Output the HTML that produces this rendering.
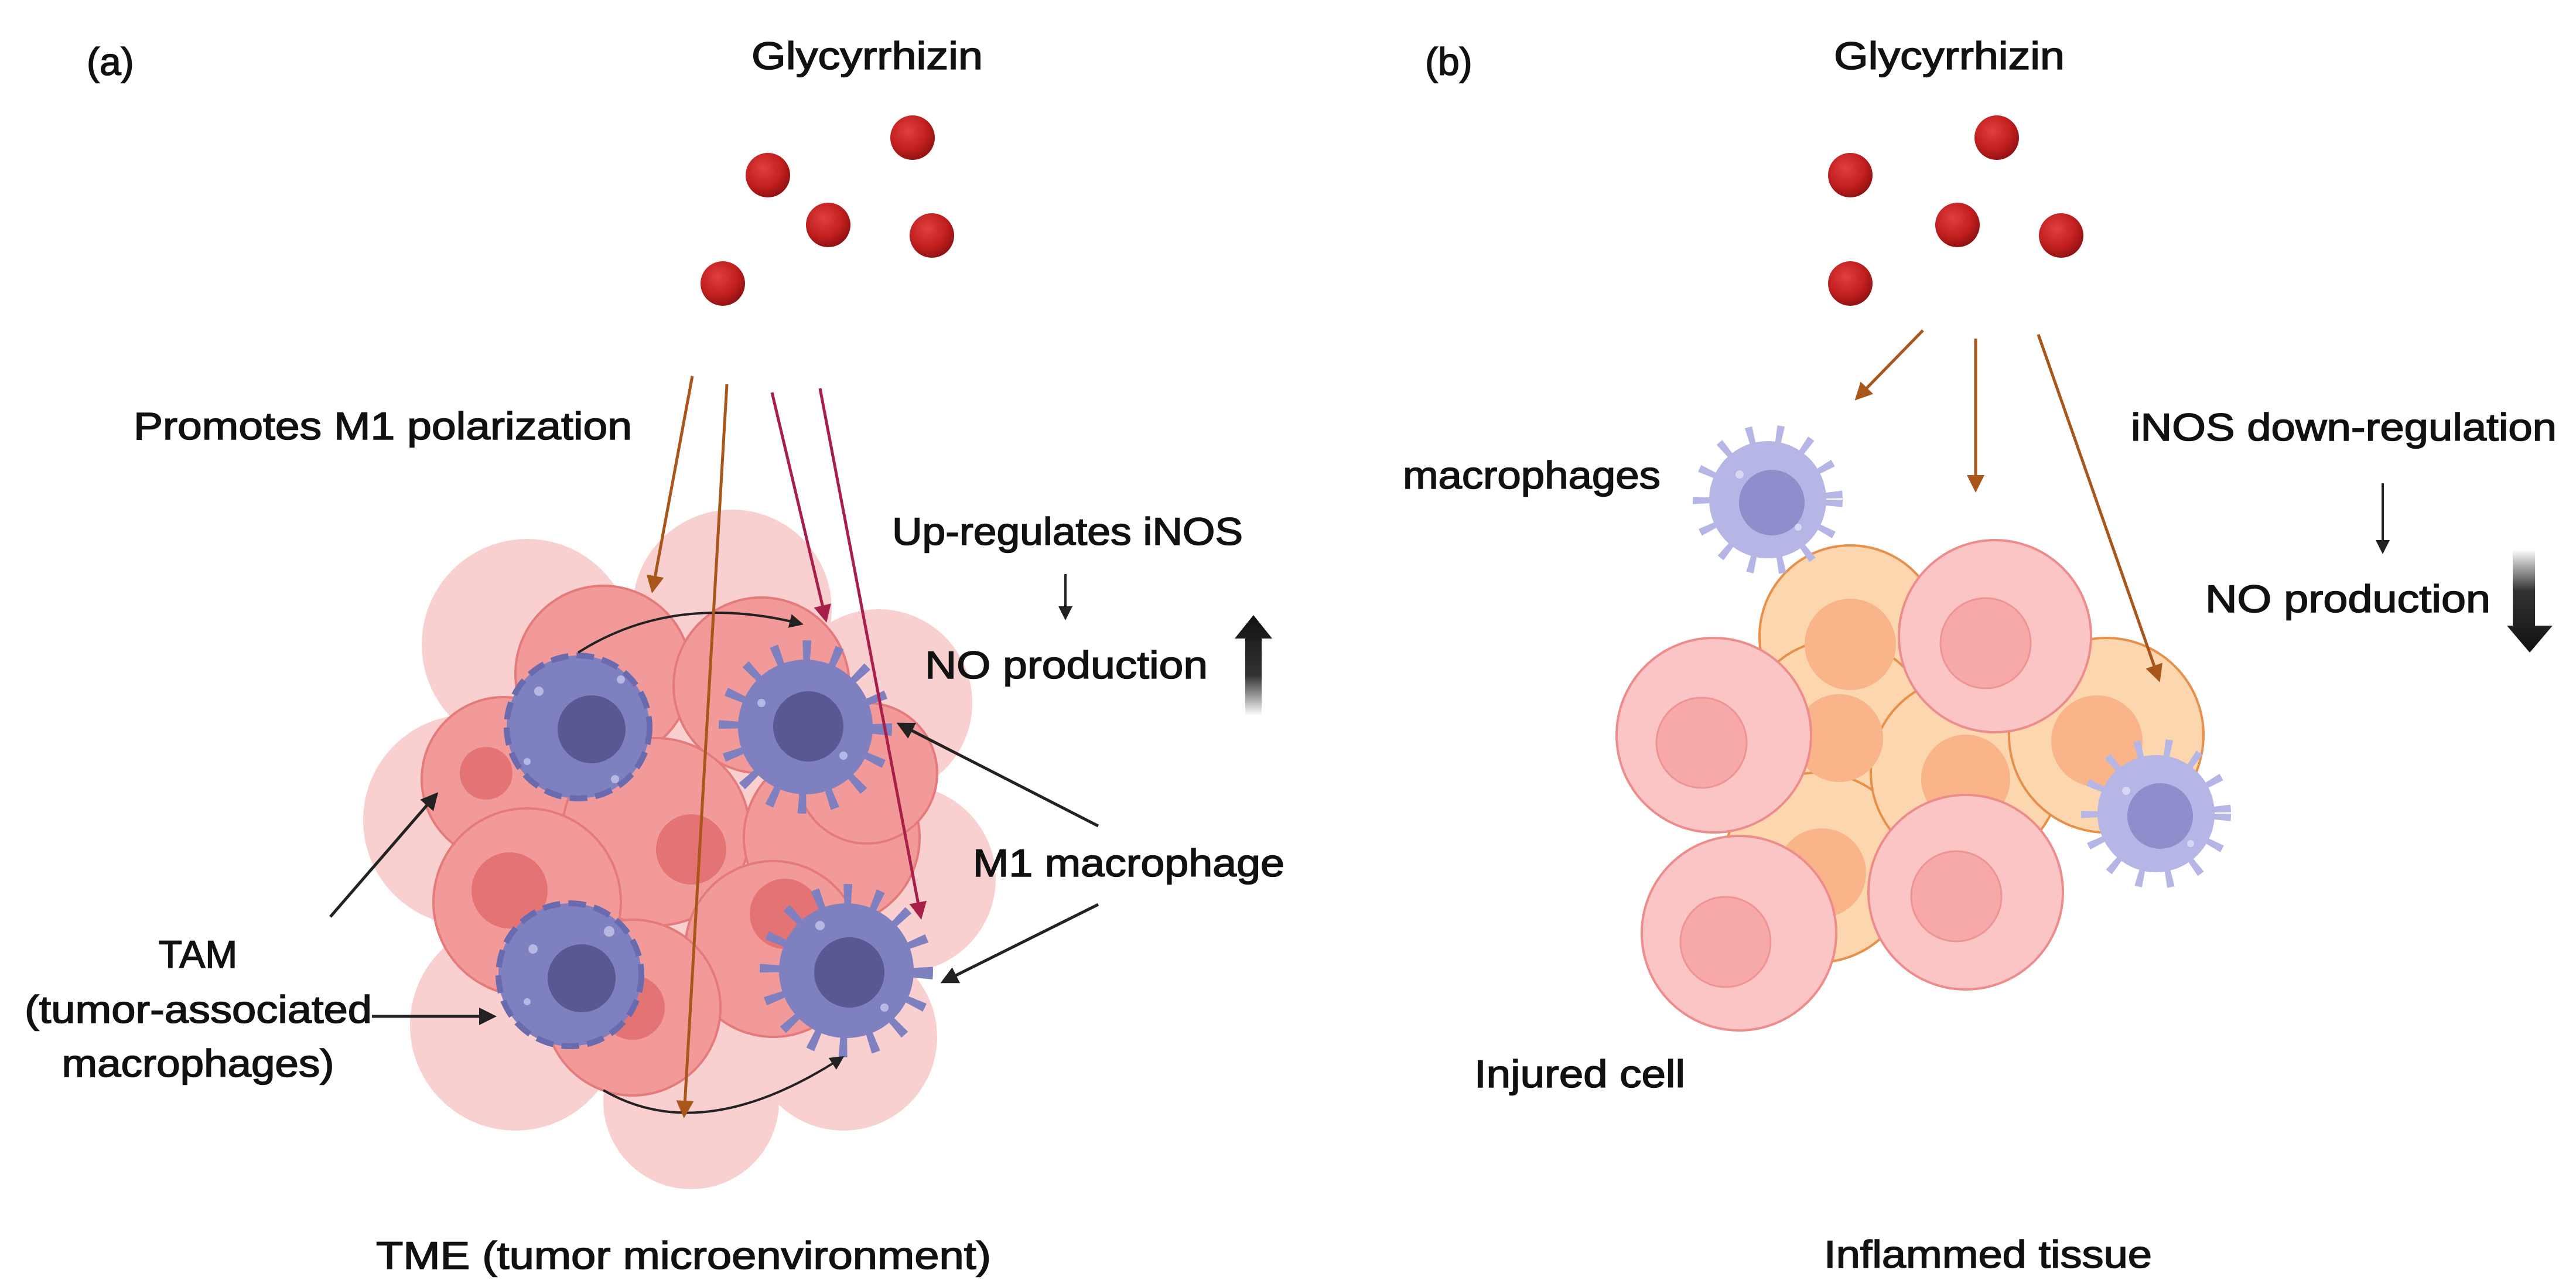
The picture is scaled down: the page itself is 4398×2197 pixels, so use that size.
<!DOCTYPE html>
<html><head><meta charset="utf-8"><style>
html,body{margin:0;padding:0;background:#fff;}
svg{display:block;}
text{font-family:"Liberation Sans",sans-serif;fill:#111;font-size:66px;stroke:#111;stroke-width:1.6px;}
</style></head><body>
<svg width="4398" height="2197" viewBox="0 0 4398 2197" xmlns="http://www.w3.org/2000/svg">
<defs>
<radialGradient id="dot" cx="0.4" cy="0.35" r="0.7"><stop offset="0" stop-color="#e04040"/><stop offset="0.6" stop-color="#c21f1f"/><stop offset="1" stop-color="#8a1010"/></radialGradient>
<linearGradient id="up" x1="0" y1="0" x2="0" y2="1"><stop offset="0" stop-color="#111"/><stop offset="0.6" stop-color="#333"/><stop offset="1" stop-color="#fff"/></linearGradient>
<linearGradient id="down" x1="0" y1="1" x2="0" y2="0"><stop offset="0" stop-color="#111"/><stop offset="0.6" stop-color="#333"/><stop offset="1" stop-color="#fff"/></linearGradient>
<marker id="ao" markerWidth="6" markerHeight="6" refX="5" refY="3" orient="auto" markerUnits="strokeWidth"><path d="M0,0 L6,3 L0,6 z" fill="#a8561a"/></marker>
<marker id="ar" markerWidth="6" markerHeight="6" refX="5" refY="3" orient="auto" markerUnits="strokeWidth"><path d="M0,0 L6,3 L0,6 z" fill="#a8204a"/></marker>
<marker id="ak" markerWidth="6" markerHeight="6" refX="5" refY="3" orient="auto" markerUnits="strokeWidth"><path d="M0,0 L6,3 L0,6 z" fill="#222"/></marker>
</defs>

<!-- LEFT PANEL -->
<text x="148" y="128" font-size="62">(a)</text>
<text x="1283" y="118" textLength="395" lengthAdjust="spacingAndGlyphs">Glycyrrhizin</text>
<g fill="url(#dot)">
<circle cx="1311" cy="299" r="38"/><circle cx="1558" cy="235" r="38"/><circle cx="1414" cy="384" r="38"/><circle cx="1591" cy="402" r="38"/><circle cx="1234" cy="484" r="38"/>
</g>
<text x="228" y="750" textLength="851" lengthAdjust="spacingAndGlyphs">Promotes M1 polarization</text>

<!-- tumor mass -->
<g>
<g fill="#f8c4c4" opacity="0.8">
<circle cx="900" cy="1100" r="180"/><circle cx="1250" cy="1040" r="170"/><circle cx="1500" cy="1200" r="160"/>
<circle cx="800" cy="1400" r="180"/><circle cx="1540" cy="1500" r="160"/><circle cx="880" cy="1750" r="180"/>
<circle cx="1180" cy="1880" r="150"/><circle cx="1440" cy="1770" r="160"/><circle cx="1170" cy="1450" r="320"/>
</g>
<g fill="#f29a9a" stroke="#e57a7a" stroke-width="4">
<circle cx="1030" cy="1150" r="150"/><circle cx="1300" cy="1170" r="150"/><circle cx="860" cy="1330" r="140"/>
<circle cx="1120" cy="1420" r="160"/><circle cx="1420" cy="1430" r="150"/><circle cx="900" cy="1540" r="160"/>
<circle cx="1320" cy="1620" r="150"/><circle cx="1080" cy="1720" r="150"/><circle cx="1480" cy="1320" r="120"/>
</g>
<g fill="#e06a6a" opacity="0.8">
<circle cx="870" cy="1520" r="65"/><circle cx="1180" cy="1450" r="60"/><circle cx="1080" cy="1720" r="55"/><circle cx="1340" cy="1560" r="60"/><circle cx="830" cy="1320" r="45"/>
</g>
</g>
<!-- TAMs -->
<g>
<circle cx="987" cy="1241" r="122" fill="#7f80c0" stroke="#6a6bae" stroke-width="10" stroke-dasharray="30 14"/>
<circle cx="1010" cy="1245" r="58" fill="#5a5892"/>
<circle cx="973" cy="1664" r="122" fill="#7f80c0" stroke="#6a6bae" stroke-width="10" stroke-dasharray="30 14"/>
<circle cx="993" cy="1670" r="58" fill="#5a5892"/>
<g fill="#b6b8e4"><circle cx="920" cy="1180" r="8"/><circle cx="1060" cy="1160" r="7"/><circle cx="900" cy="1300" r="6"/><circle cx="1050" cy="1330" r="7"/><circle cx="910" cy="1620" r="8"/><circle cx="1040" cy="1590" r="9"/><circle cx="900" cy="1710" r="6"/></g>
</g>
<!-- M1 -->
<g>
<circle cx="1375" cy="1241" r="118" fill="none" stroke="#7f80c0" stroke-width="60" stroke-dasharray="12 34"/>
<circle cx="1375" cy="1241" r="115" fill="#7f80c0"/>
<circle cx="1380" cy="1240" r="60" fill="#5a5892"/>
<circle cx="1445" cy="1657" r="118" fill="none" stroke="#7f80c0" stroke-width="60" stroke-dasharray="12 34"/>
<circle cx="1445" cy="1657" r="115" fill="#7f80c0"/>
<circle cx="1450" cy="1660" r="60" fill="#5a5892"/>
<g fill="#b6b8e4"><circle cx="1300" cy="1200" r="7"/><circle cx="1440" cy="1290" r="7"/><circle cx="1400" cy="1580" r="8"/><circle cx="1510" cy="1720" r="7"/></g>
</g>

<!-- curved arrows -->
<path d="M987,1114 Q1150,1010 1368,1065" fill="none" stroke="#222" stroke-width="4" marker-end="url(#ak)"/>
<path d="M1030,1861 Q1200,1960 1438,1805" fill="none" stroke="#222" stroke-width="4" marker-end="url(#ak)"/>

<!-- glycyrrhizin arrows -->
<line x1="1182" y1="642" x2="1114" y2="1008" stroke="#a8561a" stroke-width="5" marker-end="url(#ao)"/>
<line x1="1241" y1="656" x2="1168" y2="1904" stroke="#a8561a" stroke-width="5" marker-end="url(#ao)"/>
<line x1="1318" y1="670" x2="1410" y2="1058" stroke="#a8204a" stroke-width="5" marker-end="url(#ar)"/>
<line x1="1400" y1="663" x2="1572" y2="1565" stroke="#a8204a" stroke-width="5" marker-end="url(#ar)"/>

<text x="1523" y="930" textLength="599" lengthAdjust="spacingAndGlyphs">Up-regulates iNOS</text>
<line x1="1819" y1="980" x2="1819" y2="1055" stroke="#222" stroke-width="4" marker-end="url(#ak)"/>
<text x="1579" y="1158" textLength="483" lengthAdjust="spacingAndGlyphs">NO production</text>
<path d="M2140,1050 L2172,1090 L2154,1090 L2154,1222 L2126,1222 L2126,1090 L2108,1090 z" fill="url(#up)"/>

<text x="1661" y="1496" textLength="532" lengthAdjust="spacingAndGlyphs">M1 macrophage</text>
<line x1="1875" y1="1410" x2="1535" y2="1236" stroke="#222" stroke-width="5" marker-end="url(#ak)"/>
<line x1="1875" y1="1544" x2="1610" y2="1676" stroke="#222" stroke-width="5" marker-end="url(#ak)"/>

<text x="338" y="1652" text-anchor="middle">TAM</text>
<text x="42" y="1746" textLength="593" lengthAdjust="spacingAndGlyphs">(tumor-associated</text>
<text x="338" y="1838" text-anchor="middle" textLength="465" lengthAdjust="spacingAndGlyphs">macrophages)</text>
<line x1="564" y1="1565" x2="745" y2="1356" stroke="#222" stroke-width="5" marker-end="url(#ak)"/>
<line x1="635" y1="1735" x2="843" y2="1735" stroke="#222" stroke-width="5" marker-end="url(#ak)"/>

<text x="642" y="2166" textLength="1050" lengthAdjust="spacingAndGlyphs">TME (tumor microenvironment)</text>

<!-- RIGHT PANEL -->
<text x="2433" y="128" font-size="62">(b)</text>
<text x="3131" y="118" textLength="394" lengthAdjust="spacingAndGlyphs">Glycyrrhizin</text>
<g fill="url(#dot)">
<circle cx="3159" cy="299" r="38"/><circle cx="3409" cy="235" r="38"/><circle cx="3342" cy="384" r="38"/><circle cx="3519" cy="402" r="38"/><circle cx="3159" cy="484" r="38"/>
</g>

<text x="3638" y="752" textLength="727" lengthAdjust="spacingAndGlyphs">iNOS down-regulation</text>
<line x1="4068" y1="825" x2="4068" y2="942" stroke="#222" stroke-width="4" marker-end="url(#ak)"/>
<text x="3765" y="1045" textLength="487" lengthAdjust="spacingAndGlyphs">NO production</text>
<path d="M4290,938 L4328,938 L4328,1068 L4358,1068 L4319,1114 L4280,1068 L4290,1068 z" fill="url(#down)"/>

<text x="2395" y="834" textLength="440" lengthAdjust="spacingAndGlyphs">macrophages</text>

<!-- cells -->
<g stroke="#e8904a" stroke-width="4" fill="#fcd6ae">
<circle cx="3159" cy="1086" r="155"/>
<circle cx="3138" cy="1250" r="158"/>
<circle cx="3103" cy="1481" r="162"/>
<circle cx="3356" cy="1318" r="162"/>
<circle cx="3596" cy="1255" r="166"/>
</g>
<g fill="#f9b48a">
<circle cx="3159" cy="1100" r="78"/><circle cx="3140" cy="1260" r="75"/><circle cx="3110" cy="1490" r="76"/><circle cx="3356" cy="1330" r="76"/><circle cx="3580" cy="1265" r="78"/>
</g>
<g stroke="#ee8c8c" stroke-width="4" fill="#fbc5c5">
<circle cx="3406" cy="1086" r="164"/>
<circle cx="2926" cy="1255" r="166"/>
<circle cx="2969" cy="1593" r="166"/>
<circle cx="3356" cy="1523" r="166"/>
</g>
<g fill="#f7a8a8" stroke="#ef9494" stroke-width="3">
<circle cx="3390" cy="1098" r="77"/><circle cx="2905" cy="1268" r="77"/><circle cx="2946" cy="1608" r="77"/><circle cx="3340" cy="1530" r="77"/>
</g>
<!-- macrophages light -->
<g>
<circle cx="3018" cy="853" r="100" fill="none" stroke="#b5b5e6" stroke-width="56" stroke-dasharray="10 34"/>
<circle cx="3018" cy="853" r="100" fill="#b5b5e6"/>
<circle cx="3025" cy="858" r="56" fill="#8f8dcc"/>
<circle cx="3681" cy="1389" r="100" fill="none" stroke="#b5b5e6" stroke-width="56" stroke-dasharray="10 34"/>
<circle cx="3681" cy="1389" r="100" fill="#b5b5e6"/>
<circle cx="3688" cy="1393" r="56" fill="#8f8dcc"/>
<g fill="#d8d8f4"><circle cx="2970" cy="810" r="7"/><circle cx="3070" cy="900" r="6"/><circle cx="3630" cy="1350" r="7"/><circle cx="3740" cy="1440" r="6"/></g>
</g>

<line x1="3283" y1="564" x2="3170" y2="680" stroke="#a8561a" stroke-width="5" marker-end="url(#ao)"/>
<line x1="3373" y1="578" x2="3373" y2="836" stroke="#a8561a" stroke-width="5" marker-end="url(#ao)"/>
<line x1="3480" y1="571" x2="3686" y2="1160" stroke="#a8561a" stroke-width="5" marker-end="url(#ao)"/>

<text x="2517" y="1856" textLength="360" lengthAdjust="spacingAndGlyphs">Injured cell</text>
<text x="3114" y="2164" textLength="560" lengthAdjust="spacingAndGlyphs">Inflammed tissue</text>
</svg>
</body></html>
